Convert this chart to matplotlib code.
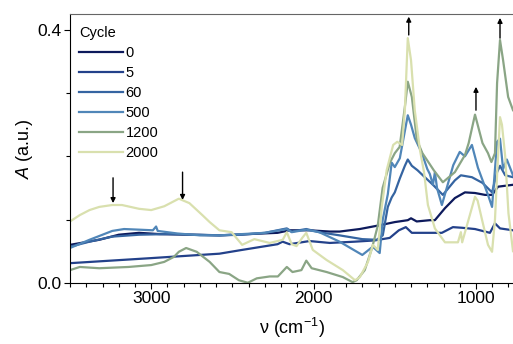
import numpy as np
import matplotlib
matplotlib.use("Agg")
import matplotlib.pyplot as plt

plt.rcParams['font.family'] = ['Liberation Sans', 'DejaVu Sans']
plt.rcParams['mathtext.fontset'] = 'custom'
plt.rcParams['mathtext.rm'] = 'Liberation Sans'
plt.rcParams['mathtext.it'] = 'Liberation Sans:italic'

# spectres (nombre d'onde en cm-1, absorbance)
cycles = ['0', '5', '60', '500', '1200', '2000']
colors = ['#0d1a5c', '#23418a', '#3564a1', '#5086b8', '#8aa585', '#d9e0ae']

wn_0 = [3500, 3320, 3200, 3075, 2950, 2580, 2222, 2148, 2025, 1900, 1840, 1716,
        1593, 1500, 1420, 1400, 1365, 1284, 1253, 1191, 1130, 1068, 1006, 944,
        901, 864, 772]
a_0 = [0.060, 0.068, 0.076, 0.079, 0.077, 0.075, 0.079, 0.083, 0.083, 0.081, 0.081, 0.085,
       0.091, 0.096, 0.099, 0.102, 0.097, 0.099, 0.099, 0.118, 0.134, 0.143, 0.142, 0.139,
       0.139, 0.152, 0.155]

wn_5 = [3500, 3000, 2580, 2440, 2222, 2191, 2148, 2025, 1900, 1747, 1623, 1531,
        1475, 1432, 1395, 1358, 1210, 1142, 1086, 1006, 914, 883, 852, 772]
a_5 = [0.031, 0.039, 0.046, 0.052, 0.061, 0.065, 0.061, 0.066, 0.063, 0.065, 0.067, 0.071,
       0.083, 0.088, 0.079, 0.079, 0.079, 0.088, 0.087, 0.085, 0.079, 0.094, 0.086, 0.083]

wn_60 = [3500, 3380, 3240, 3075, 2900, 2700, 2580, 2440, 2300, 2165, 2135, 2045,
         1965, 1840, 1700, 1611, 1574, 1543, 1519, 1500, 1469, 1438, 1420, 1395,
         1360, 1315, 1265, 1204, 1130, 1093, 1025, 960, 901, 870, 852, 820, 772]
a_60 = [0.057, 0.065, 0.073, 0.076, 0.077, 0.076, 0.075, 0.076, 0.079, 0.086, 0.081, 0.085,
        0.080, 0.075, 0.069, 0.068, 0.075, 0.120, 0.135, 0.143, 0.165, 0.185, 0.195, 0.185,
        0.178, 0.167, 0.155, 0.139, 0.162, 0.170, 0.167, 0.158, 0.143, 0.175, 0.185, 0.170, 0.167]

wn_500 = [3500, 3380, 3240, 3167, 3075, 2990, 2970, 2960, 2840, 2700, 2580, 2440,
          2300, 2165, 2135, 2045, 1965, 1840, 1700, 1636, 1593, 1574, 1543, 1519,
          1500, 1469, 1438, 1420, 1400, 1377, 1333, 1300, 1284, 1265, 1253, 1240,
          1210, 1140, 1100, 1068, 1025, 988, 926, 901, 870, 852, 833, 810, 772]
a_500 = [0.055, 0.068, 0.082, 0.085, 0.084, 0.083, 0.089, 0.082, 0.078, 0.075, 0.075, 0.077,
         0.079, 0.085, 0.080, 0.084, 0.080, 0.065, 0.044, 0.057, 0.047, 0.100, 0.140, 0.190,
         0.183, 0.197, 0.240, 0.265, 0.250, 0.229, 0.205, 0.180, 0.172, 0.155, 0.175, 0.150,
         0.123, 0.186, 0.207, 0.200, 0.218, 0.182, 0.139, 0.120, 0.223, 0.228, 0.180, 0.195, 0.170]

wn_1200 = [3500, 3440, 3320, 3140, 3000, 2920, 2860, 2830, 2785, 2720, 2640, 2580,
           2520, 2460, 2405, 2350, 2270, 2220, 2165, 2130, 2075, 2045, 2012, 1920,
           1820, 1760, 1735, 1685, 1640, 1605, 1575, 1530, 1500, 1470, 1438, 1420,
           1395, 1364, 1330, 1296, 1260, 1204, 1130, 1068, 1045, 1006, 960, 926,
           905, 883, 870, 852, 833, 802, 772]
a_1200 = [0.020, 0.025, 0.023, 0.025, 0.028, 0.033, 0.041, 0.049, 0.055, 0.049, 0.033, 0.017,
          0.014, 0.004, 0.000, 0.007, 0.010, 0.010, 0.025, 0.017, 0.020, 0.035, 0.023, 0.017,
          0.009, 0.001, 0.004, 0.020, 0.055, 0.090, 0.150, 0.190, 0.205, 0.215, 0.278, 0.318,
          0.294, 0.226, 0.205, 0.192, 0.178, 0.159, 0.175, 0.202, 0.221, 0.266, 0.221, 0.205,
          0.191, 0.205, 0.316, 0.384, 0.352, 0.294, 0.273]

wn_2000 = [3500, 3440, 3380, 3320, 3240, 3180, 3075, 3000, 2920, 2830, 2765, 2685,
           2640, 2580, 2505, 2440, 2365, 2270, 2190, 2165, 2135, 2105, 2070, 2045,
           2005, 1920, 1820, 1745, 1715, 1665, 1635, 1605, 1580, 1550, 1510, 1485,
           1455, 1438, 1420, 1400, 1377, 1345, 1320, 1296, 1253, 1191, 1111, 1093,
           1085, 1050, 1006, 990, 963, 926, 901, 883, 870, 852, 840, 820, 800, 772]
a_2000 = [0.097, 0.107, 0.115, 0.120, 0.123, 0.123, 0.117, 0.115, 0.121, 0.133, 0.126, 0.107,
          0.096, 0.083, 0.080, 0.060, 0.069, 0.063, 0.068, 0.080, 0.061, 0.058, 0.071, 0.079,
          0.052, 0.036, 0.020, 0.004, 0.009, 0.033, 0.060, 0.052, 0.120, 0.178, 0.218, 0.223,
          0.218, 0.273, 0.387, 0.352, 0.273, 0.210, 0.175, 0.123, 0.086, 0.064, 0.064, 0.080,
          0.064, 0.096, 0.136, 0.130, 0.100, 0.060, 0.049, 0.100, 0.170, 0.262, 0.250, 0.200,
          0.110, 0.050]

spectra = [(wn_0, a_0), (wn_5, a_5), (wn_60, a_60), (wn_500, a_500),
           (wn_1200, a_1200), (wn_2000, a_2000)]

# fleches : (nombre d'onde, depart, arrivee)
arrows_down = [(3235, 0.166, 0.126), (2807, 0.175, 0.131)]
arrows_up = [(1414, 0.392, 0.421), (1000, 0.273, 0.310), (852, 0.387, 0.419)]

fig = plt.figure(figsize=(5.13, 3.44), dpi=100)
ax = fig.add_axes([0.1365, 0.178, 0.8635, 0.781])

for (wn, a), c, lab in zip(spectra, colors, cycles):
    ax.plot(wn, a, color=c, lw=1.6, label=lab)

for x, y0, y1 in arrows_down + arrows_up:
    ax.annotate('', xy=(x, y1), xytext=(x, y0),
                arrowprops=dict(arrowstyle='-|>', color='k', lw=1.0,
                                mutation_scale=7, shrinkA=0, shrinkB=0))

ax.set_xlim(3500, 772)
ax.set_ylim(0, 0.425)
ax.set_xticks([3000, 2000, 1000])
ax.set_xticks(np.arange(3500, 700, -100), minor=True)
ax.set_yticks([0.0, 0.4])
ax.set_yticklabels(['0.0', '0.4'])
ax.set_yticks([0.1, 0.2, 0.3], minor=True)
ax.tick_params(axis='both', which='major', labelsize=12.5, length=4, width=0.8, pad=2)
ax.tick_params(axis='both', which='minor', length=3, width=0.8)
ax.spines['right'].set_visible(False)
ax.spines['top'].set_color('0.4')

ax.set_xlabel(r'ν (cm$^{-1}$)', fontsize=13, labelpad=7)
ax.set_ylabel(r'$A$ (a.u.)', fontsize=13, labelpad=2)

leg = ax.legend(title='Cycle', loc='upper left', frameon=False, fontsize=10.5,
                title_fontsize=10.5, handlelength=3.0, handletextpad=0.2,
                labelspacing=0.42, borderaxespad=0.2, bbox_to_anchor=(0.0, 0.99))
leg._legend_box.align = 'left'

fig.savefig('out.png', dpi=100)
